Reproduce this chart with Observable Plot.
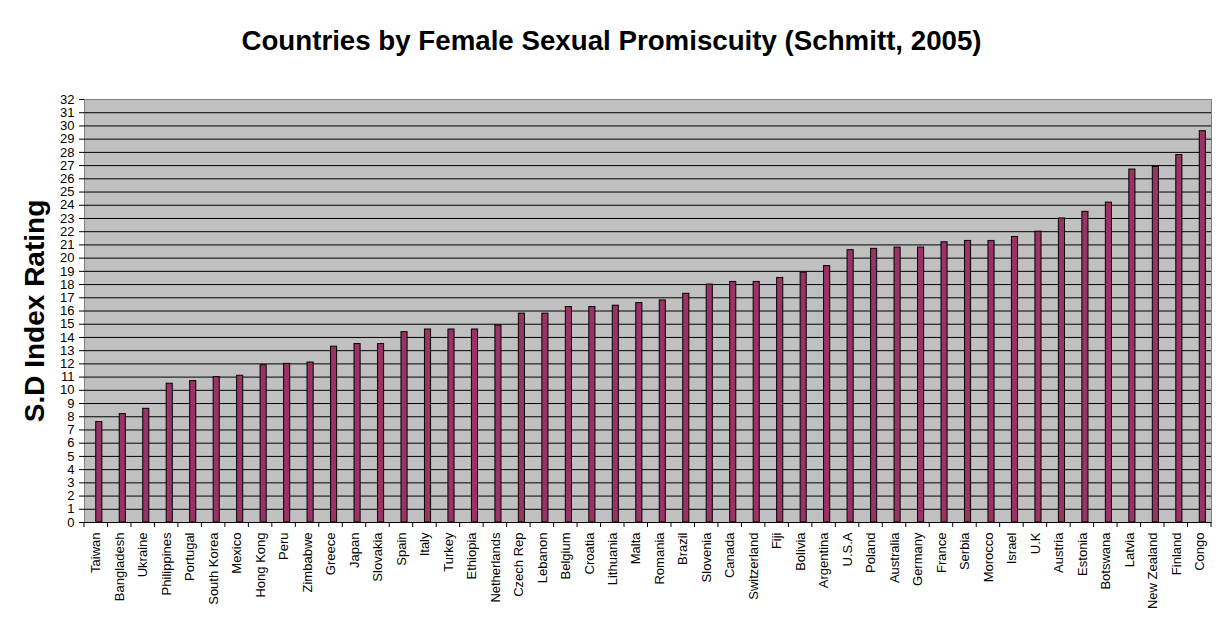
<!DOCTYPE html>
<html>
<head>
<meta charset="utf-8">
<script src="https://cdn.jsdelivr.net/npm/d3@7"></script>
<script src="https://cdn.jsdelivr.net/npm/@observablehq/plot@0.6"></script>
<style>
  html, body { margin: 0; padding: 0; background: #ffffff; }
  #title {
    width: 1223px; height: 82px; line-height: 82px; text-align: center;
    font-family: "Liberation Sans", Arial, sans-serif; font-weight: bold; font-size: 27.7px; color: #000;
  }
  #chart svg { display: block; }
</style>
</head>
<body>
<div id="title">Countries by Female Sexual Promiscuity (Schmitt, 2005)</div>
<div id="chart"></div>
<script>
const countries = ["Taiwan","Bangladesh","Ukraine","Philippines","Portugal","South Korea","Mexico","Hong Kong","Peru","Zimbabwe","Greece","Japan","Slovakia","Spain","Italy","Turkey","Ethiopia","Netherlands","Czech Rep","Lebanon","Belgium","Croatia","Lithuania","Malta","Romania","Brazil","Slovenia","Canada","Switzerland","Fiji","Bolivia","Argentina","U.S.A","Poland","Australia","Germany","France","Serbia","Morocco","Israel","U.K","Austria","Estonia","Botswana","Latvia","New Zealand","Finland","Congo"];
const values = [7.6,8.2,8.6,10.5,10.7,11.0,11.1,11.9,12.0,12.1,13.3,13.5,13.5,14.4,14.6,14.6,14.6,14.9,15.8,15.8,16.3,16.3,16.4,16.6,16.8,17.3,18.0,18.2,18.2,18.5,18.9,19.4,20.6,20.7,20.8,20.8,21.2,21.3,21.3,21.6,22.0,23.0,23.5,24.2,26.7,26.9,27.8,29.6];
const yTicks = d3.range(0, 33);
const yLabel = "S.D Index Rating";

const data = countries.map((c, i) => ({country: c, value: values[i]}));

// tick marks at the boundaries between category slots, placed through the x scale
function boundaryTicks(index, scales) {
  const x = scales.x, y = scales.y;
  const step = x.step();
  const r0 = Math.min(...x.range());
  const xs = d3.range(countries.length + 1).map(i => r0 + i * step);
  const y0 = y(0);
  const g = d3.create("svg:g");
  g.selectAll("line").data(xs).join("line")
    .attr("x1", d => d).attr("x2", d => d)
    .attr("y1", y0).attr("y2", y0 + 5)
    .attr("stroke", "#000");
  return g.node();
}

const chart = Plot.plot({
  width: 1223,
  height: 539,
  marginTop: 17,
  marginBottom: 99,
  marginLeft: 84,
  marginRight: 12,
  style: {fontFamily: "'Liberation Sans', Arial, sans-serif", fontSize: "13px", color: "#000", background: "#fff"},
  x: {domain: countries, paddingInner: 0.74, paddingOuter: 0.37, align: 0.676, round: false, label: null},
  y: {domain: [0, 32], label: null},
  marks: [
    Plot.frame({fill: "#C0C0C0", stroke: "#808080"}),
    Plot.gridY(yTicks.filter(t => t > 0 && t < 32), {stroke: "#000", strokeOpacity: 1, strokeWidth: 1}),
    Plot.barY(data, {x: "country", y: "value", fill: "#993366", stroke: "#000", strokeWidth: 1}),
    Plot.ruleY([0], {stroke: "#000"}),
    Plot.ruleX([0], {x: () => 0, frameAnchor: "left", stroke: "#000"}),
    Plot.axisY(yTicks, {tickSize: 5, tickPadding: 5, fontSize: 13, label: null, stroke: "#000"}),
    Plot.axisX({tickSize: 0, tickPadding: 10, tickRotate: -90, fontSize: 13, dx: -3, label: null}),
    boundaryTicks,
    Plot.text([yLabel], {text: d => d, frameAnchor: "left", rotate: -90, dx: -49, fontSize: 28, fontWeight: "bold", textAnchor: "middle", fill: "#000"})
  ]
});
document.getElementById("chart").appendChild(chart);
</script>
</body>
</html>
